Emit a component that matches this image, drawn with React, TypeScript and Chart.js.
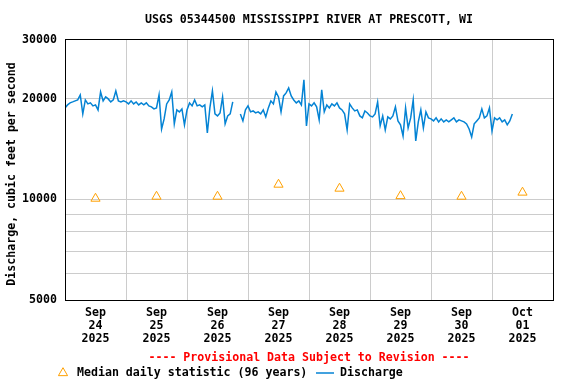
import React, { useEffect, useRef } from 'react';
import { Chart, registerables } from 'chart.js';

Chart.register(...registerables);

const TITLE = 'USGS 05344500 MISSISSIPPI RIVER AT PRESCOTT, WI';
const Y_TITLE = 'Discharge, cubic feet per second';
const PROVISIONAL = '---- Provisional Data Subject to Revision ----';
const LEGEND_MEDIAN = 'Median daily statistic (96 years)';
const LEGEND_DISCHARGE = 'Discharge';

const dayMonths = ['Sep', 'Sep', 'Sep', 'Sep', 'Sep', 'Sep', 'Sep', 'Oct'];
const dayNumbers = ['24', '25', '26', '27', '28', '29', '30', '01'];
const dayYears = ['2025', '2025', '2025', '2025', '2025', '2025', '2025', '2025'];

// median daily statistic, one per day (plotted at noon)
const medianValues = [10060, 10200, 10200, 11080, 10780, 10240, 10200, 10490];

// hourly discharge (cfs), starting 00:00 of each day
const dischargeSep24 = [18790, 19180, 19450, 19580, 19720, 19850, 20550, 18030, 19850, 19310, 19450, 19050, 19180, 18530, 20970, 19720, 20270, 19990, 19580, 19850, 21120, 19720, 19580, 19720];
const dischargeSep25 = [19580, 19310, 19720, 19310, 19580, 19180, 19450, 19180, 19450, 19050, 18920, 18660, 18790, 20550, 16250, 17420, 19310, 19850, 20970, 16830, 18530, 18280, 18660, 16720];
const dischargeSep26 = [18530, 19450, 19050, 19850, 19050, 19180, 18920, 19180, 15810, 18790, 21120, 18030, 17780, 18150, 20270, 16830, 17780, 18030, 19580, null, null, 18030, 17180, 18530];
const dischargeSep27 = [19050, 18280, 18400, 18150, 18280, 18030, 18530, 17660, 18790, 19720, 19310, 20970, 20270, 18280, 20410, 20830, 21560, 20410, 19850, 19450, 19720, 19180, 22790, 16600];
const dischargeSep28 = [19310, 19050, 19450, 18920, 17300, 21270, 18280, 19180, 18790, 19310, 19050, 19450, 18790, 18530, 18030, 16140, 19310, 18790, 18400, 18530, 17780, 17540, 18400, 18150];
const dischargeSep29 = [17780, 17660, 18030, 19580, 16600, 17780, 16140, 17660, 17420, 17780, 18920, 17180, 16720, 15490, 18790, 16370, 17540, 19850, 14970, 17060, 18530, 16370, 18280, 17540];
const dischargeSep30 = [17420, 17180, 17540, 17060, 17420, 17060, 17300, 17060, 17300, 17540, 17060, 17300, 17180, 17060, 16830, 16250, 15380, 16830, 17180, 17540, 18660, 17540, 17780, 18790];
const dischargeOct01 = [16030, 17540, 17300, 17540, 17060, 17300, 16720, 17180, 18030];

const xTickHours = [0, 12, 24, 36, 48, 60, 72, 84, 96, 108, 120, 132, 144, 156, 168, 180, 192];
const yTickValues = [5000, 6000, 7000, 8000, 9000, 10000, 20000, 30000];
const yLabeledValues = [5000, 10000, 20000, 30000];

const FAMILY = '"DejaVu Sans Mono", monospace';
const FONT_SIZE = 11.6;
const FONT = `bold ${FONT_SIZE}px ${FAMILY}`;
const BLUE = '#0483d4';
const ORANGE = '#ffa000';
const GRID = '#cccccc';

export default function App() {
  const canvasRef = useRef<HTMLCanvasElement | null>(null);

  useEffect(() => {
    document.body.style.margin = '0';
    const canvas = canvasRef.current;
    if (!canvas) return;

    const allHours = [
      ...dischargeSep24, ...dischargeSep25, ...dischargeSep26, ...dischargeSep27,
      ...dischargeSep28, ...dischargeSep29, ...dischargeSep30, ...dischargeOct01,
    ];
    const dischargePoints = allHours.map((v, i) => ({ x: i, y: v }));
    const medianPoints = medianValues.map((v, i) => ({ x: 12 + 24 * i, y: v }));

    const overlay = {
      id: 'overlay',
      afterDraw(chart: any) {
        const ctx = chart.ctx as CanvasRenderingContext2D;
        const ca = chart.chartArea;
        ctx.save();
        // frame
        ctx.strokeStyle = '#000';
        ctx.lineWidth = 1;
        ctx.strokeRect(Math.round(ca.left) + 0.5, Math.round(ca.top) - 0.5, Math.round(ca.right - ca.left), Math.round(ca.bottom - ca.top) + 1);

        ctx.font = FONT;
        ctx.fillStyle = '#000';
        ctx.textBaseline = 'middle';
        const cx = (ca.left + ca.right) / 2;
        // title
        ctx.textAlign = 'center';
        ctx.fillText(TITLE, cx, 20);
        // y title
        ctx.save();
        ctx.translate(12, 174);
        ctx.rotate(-Math.PI / 2);
        ctx.fillText(Y_TITLE, 0, 0);
        ctx.restore();
        // provisional
        ctx.fillStyle = '#ff0000';
        ctx.fillText(PROVISIONAL, cx, 358);
        // legend
        const ly = 373;
        const r = 5.3;
        const tx = 63;
        ctx.strokeStyle = ORANGE;
        ctx.lineWidth = 1;
        ctx.beginPath();
        ctx.moveTo(tx, ly - r);
        ctx.lineTo(tx + r * 0.866, ly + r * 0.5);
        ctx.lineTo(tx - r * 0.866, ly + r * 0.5);
        ctx.closePath();
        ctx.stroke();
        ctx.fillStyle = '#000';
        ctx.textAlign = 'left';
        ctx.fillText(LEGEND_MEDIAN, 77, ly);
        ctx.strokeStyle = BLUE;
        ctx.lineWidth = 1.5;
        ctx.beginPath();
        ctx.moveTo(316, ly);
        ctx.lineTo(334, ly);
        ctx.stroke();
        ctx.fillText(LEGEND_DISCHARGE, 340, ly);
        ctx.restore();
      },
    };

    const chart = new Chart(canvas, {
      type: 'line',
      data: {
        datasets: [
          {
            label: LEGEND_DISCHARGE,
            data: dischargePoints as any,
            borderColor: BLUE,
            borderWidth: 1.5,
            pointRadius: 0,
            spanGaps: false,
            tension: 0,
          },
          {
            label: LEGEND_MEDIAN,
            data: medianPoints as any,
            showLine: false,
            pointStyle: 'triangle',
            pointRadius: 5.3,
            pointBorderColor: ORANGE,
            pointBackgroundColor: 'rgba(0,0,0,0)',
            pointBorderWidth: 1,
          },
        ],
      },
      options: {
        animation: false,
        responsive: false,
        devicePixelRatio: 1,
        layout: { padding: { left: 0, right: 23, top: 40, bottom: 0 } },
        plugins: {
          legend: { display: false },
          title: { display: false },
          tooltip: { enabled: false },
        },
        scales: {
          x: {
            type: 'linear',
            min: 0,
            max: 192,
            afterBuildTicks: (s: any) => {
              s.ticks = xTickHours.map((v) => ({ value: v }));
            },
            afterFit: (s: any) => {
              s.height = 84;
            },
            border: { display: false },
            grid: {
              drawTicks: false,
              lineWidth: 1,
              color: (c: any) => {
                const v = c.tick ? c.tick.value : 0;
                return v % 24 === 0 && v > 0 && v < 192 ? GRID : 'rgba(0,0,0,0)';
              },
            },
            ticks: {
              autoSkip: false,
              maxRotation: 0,
              minRotation: 0,
              padding: 6,
              color: '#000',
              font: { family: FAMILY, size: FONT_SIZE, weight: 'bold', lineHeight: '13px' } as any,
              callback: (value: any) => {
                const v = Number(value);
                if (v % 24 !== 12) return '';
                const i = (v - 12) / 24;
                return [dayMonths[i], dayNumbers[i], dayYears[i]];
              },
            },
          },
          y: {
            type: 'logarithmic',
            min: 5000,
            max: 30000,
            afterBuildTicks: (s: any) => {
              s.ticks = yTickValues.map((v) => ({ value: v }));
            },
            afterFit: (s: any) => {
              s.width = 65;
            },
            border: { display: false },
            grid: {
              drawTicks: false,
              lineWidth: 1,
              color: (c: any) => {
                const v = c.tick ? c.tick.value : 0;
                return v > 5000 && v < 30000 ? GRID : 'rgba(0,0,0,0)';
              },
            },
            ticks: {
              padding: 8,
              color: '#000',
              font: { family: FAMILY, size: FONT_SIZE, weight: 'bold' } as any,
              callback: (value: any) => {
                const v = Number(value);
                return yLabeledValues.includes(v) ? String(v) : '';
              },
            },
          },
        },
      } as any,
      plugins: [overlay],
    });

    return () => {
      chart.destroy();
    };
  }, []);

  return (
    <div style={{ width: 576, height: 384 }}>
      <canvas ref={canvasRef} width={576} height={384} style={{ display: 'block', width: 576, height: 384 }} />
    </div>
  );
}
